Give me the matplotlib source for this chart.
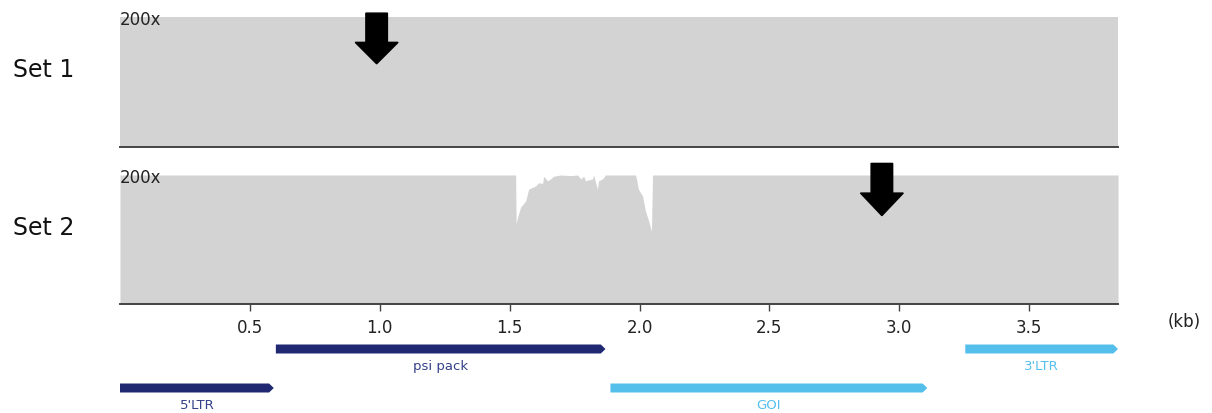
import matplotlib.pyplot as plt
import matplotlib.patches as mpatches

plt.rcParams["font.family"] = ["DejaVu Sans"]

# Coverage data (kb, coverage)
set1_pos = [0.0, 3.842]
set1_cov = [200, 200]

set2_pos = [0.0, 1.523, 1.525, 1.531, 1.542, 1.562, 1.573, 1.600, 1.612, 1.627, 1.631,
            1.646, 1.658, 1.669, 1.696, 1.735, 1.762, 1.773, 1.785, 1.792, 1.819,
            1.823, 1.838, 1.842, 1.858, 1.869, 1.985, 1.996, 2.012, 2.023, 2.035,
            2.046, 2.050, 3.842]
set2_cov = [200, 200, 124, 135, 150, 160, 178, 183, 188, 187, 198,
            191, 194, 198, 200, 199, 200, 194, 198, 191, 194,
            200, 178, 191, 194, 200, 200, 178, 167, 144, 129,
            113, 200, 200]

# Arrow markers (kb)
arrow_x = [0.988, 2.933]

# Features: name, start, end, row, color
feat_names = ["psi pack", "3'LTR", "5'LTR", "GOI"]
feat_start = [0.60, 3.254, 0.0, 1.888]
feat_end = [1.869, 3.842, 0.592, 3.108]
feat_row = [0, 0, 1, 1]
feat_color = ["#1f2871", "#55bfec", "#1f2871", "#55bfec"]
text_color = ["#34408a", "#55bfec", "#34408a", "#55bfec"]

ticks = [0.5, 1.0, 1.5, 2.0, 2.5, 3.0, 3.5]
XMAX = 3.842

W, H = 1212, 414
fig = plt.figure(figsize=(W / 100, H / 100), dpi=100)

def px_axes(left, top, right, bottom):
    return fig.add_axes([left / W, 1 - bottom / H, (right - left) / W, (bottom - top) / H])

ax1 = px_axes(120, 18, 1118, 148)
ax2 = px_axes(120, 176, 1118, 305)
ax3 = px_axes(120, 335, 1118, 414)

GRAY = "#d3d3d3"
SPINE = "#444444"

for ax, pos, cov, label in [(ax1, set1_pos, set1_cov, "Set 1"),
                            (ax2, set2_pos, set2_cov, "Set 2")]:
    ax.fill_between(pos, 0, cov, color=GRAY, lw=0)
    ax.set_xlim(0, XMAX)
    ax.set_ylim(0, 200)
    for s in ["top", "left", "right"]:
        ax.spines[s].set_visible(False)
    ax.spines["bottom"].set_color(SPINE)
    ax.spines["bottom"].set_linewidth(1.4)
    ax.set_yticks([])
    ax.text(0.0, 200, "200x", fontsize=12, color="#222222", ha="left", va="center_baseline")
    ax.text(-0.107, 0.6, label, transform=ax.transAxes, fontsize=17, color="#111111",
            ha="left", va="center")

ax1.set_xticks([])

# arrows
a1 = mpatches.FancyArrow(arrow_x[0], 206, 0, -78, width=0.083, head_width=0.165,
                         head_length=33, length_includes_head=True, color="black",
                         clip_on=False, zorder=5)
ax1.add_patch(a1)
a2 = mpatches.FancyArrow(arrow_x[1], 218, 0, -81, width=0.083, head_width=0.165,
                         head_length=35, length_includes_head=True, color="black",
                         clip_on=False, zorder=5)
ax2.add_patch(a2)

ax2.set_xticks(ticks)
ax2.set_xticklabels([f"{t:.1f}" for t in ticks], fontsize=12, color="#222222")
ax2.tick_params(axis="x", length=5, width=1, color=SPINE, pad=5)
ax2.text(1.05, -0.13, "(kb)", transform=ax2.transAxes, fontsize=12, color="#222222",
         ha="left", va="center")

# feature track
ax3.set_xlim(0, XMAX)
ax3.set_ylim(0, 79)
ax3.axis("off")
row_y = [64, 25]
for name, s, e, r, c, tc in zip(feat_names, feat_start, feat_end, feat_row, feat_color, text_color):
    y = row_y[r]
    arr = mpatches.FancyArrow(s, y, e - s, 0, width=9, head_width=9, head_length=0.018,
                              length_includes_head=True, color=c, lw=0, clip_on=False)
    ax3.add_patch(arr)
    ax3.text((s + e) / 2, y - 17, name, fontsize=9.5, color=tc, ha="center", va="center")

fig.savefig("out.png", dpi=100)
